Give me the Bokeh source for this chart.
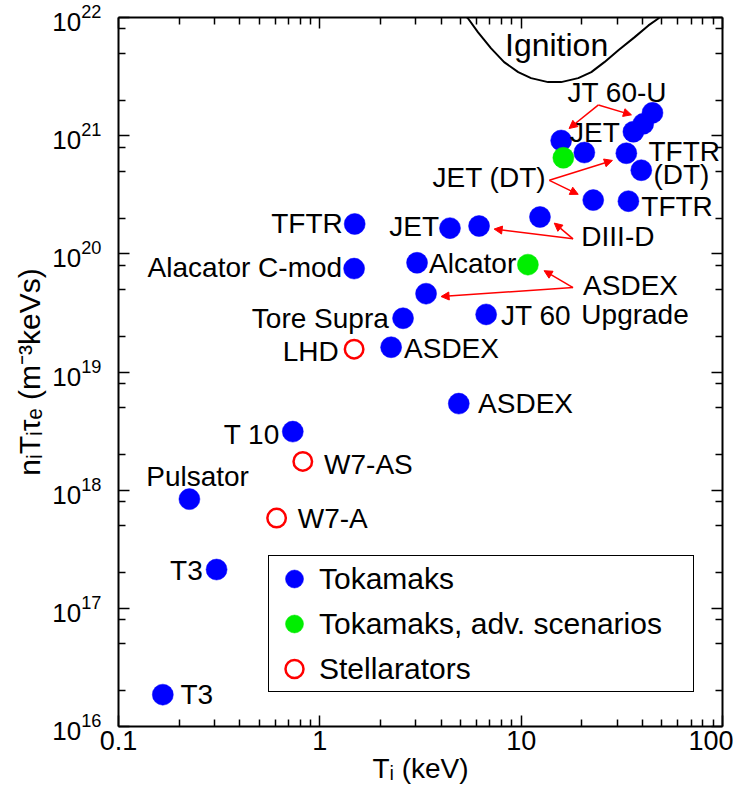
from bokeh.plotting import figure
from bokeh.models import (LogAxis, FixedTicker, ColumnDataSource, Arrow, NormalHead,
                          Legend, LegendItem, LogTickFormatter, CustomJSTickFormatter)
from bokeh.embed import file_html
from bokeh.resources import INLINE
from bokeh.core.properties import value

FONT = "Liberation Sans"

# ---------------- data ----------------
# Tokamaks (blue, filled)
tok_T = [0.166, 0.307, 0.225, 0.734, 4.9, 2.26, 2.59, 3.37, 3.04, 6.7, 1.48, 1.49,
         4.43, 6.18, 12.4, 15.8, 20.6, 33.3, 39.5, 22.8, 34.1, 36.1, 40.4, 44.9]
tok_n = [1.86e16, 2.13e17, 8.4e17, 3.13e18, 5.4e18, 1.62e19, 2.85e19, 4.6e19, 8.4e19,
         3.07e19, 7.5e19, 1.79e20, 1.65e20, 1.72e20, 2.05e20, 9.1e20, 7.2e20, 7.1e20,
         5.1e20, 2.85e20, 2.79e20, 1.08e21, 1.26e21, 1.56e21]
# Tokamaks, advanced scenarios (green)
adv_T = [16.2, 10.8]
adv_n = [6.5e20, 8.1e19]
# Stellarators (red, open)
stel_T = [0.61, 0.823, 1.48]
stel_n = [5.8e17, 1.75e18, 1.56e19]

# Ignition curve
ign_T = [5.38, 5.45, 6.11, 7.09, 8.23, 9.67, 11.2, 13.6, 15.8, 19.2, 22.3, 25.9, 30.4, 36.5, 42.9, 48.0, 48.5]
ign_n = [1.0e22, 9.8e21, 7.48e21, 5.48e21, 4.19e21, 3.45e21, 3.07e21, 2.84e21, 2.84e21,
         3.07e21, 3.45e21, 4.19e21, 5.28e21, 6.79e21, 8.57e21, 9.8e21, 1.0e22]
ign_label = ["Ignition"]
ign_label_x = [15.0]
ign_label_y = [5.82e21]

# Point labels
lab_left_text = ["JET", "TFTR", "(DT)", "TFTR", "Alcator", "DIII-D", "ASDEX", "Upgrade",
                 "JT 60", "ASDEX", "ASDEX", "W7-AS", "W7-A", "T3"]
lab_left_x = [17.5, 42.9, 45.4, 39.5, 3.49, 19.9, 20.3, 19.9, 7.95, 2.62, 6.11, 1.05, 0.777, 0.203]
lab_left_y = [1.06e21, 7.34e20, 4.70e20, 2.53e20, 8.24e19, 1.39e20, 5.38e19, 3.07e19,
              3.01e19, 1.59e19, 5.38e18, 1.66e18, 5.71e17, 1.86e16]

lab_right_text = ["JET (DT)", "JET", "TFTR", "Alacator C-mod", "Tore Supra", "LHD", "T 10", "T3"]
lab_right_x = [13.3, 3.91, 1.30, 1.29, 2.20, 1.24, 0.632, 0.262]
lab_right_y = [4.44e20, 1.72e20, 1.79e20, 7.63e19, 2.84e19, 1.50e19, 2.96e18, 2.08e17]

lab_center_text = ["JT 60-U", "Pulsator"]
lab_center_x = [30.0, 0.247]
lab_center_y = [2.30e21, 1.31e18]

# Annotation arrows (start at label, end at point)
arr_x0 = [24.2, 24.2, 13.8, 13.8, 18.1, 18.1, 18.1, 18.1]
arr_y0 = [1.82e21, 1.82e21, 4.19e20, 4.19e20, 1.34e20, 1.34e20, 5.18e19, 5.18e19]
arr_x1 = [35.3, 17.3, 28.4, 19.2, 7.34, 14.6, 13.0, 4.0]
arr_y1 = [1.50e21, 1.15e21, 6.17e20, 3.19e20, 1.62e20, 1.82e20, 7.2e19, 4.35e19]

x_major = [0.1, 1, 10, 100]
x_minor = [k * 10.0 ** e for e in (-1, 0, 1) for k in range(2, 10)]
y_major = [10.0 ** e for e in range(16, 23)]
y_minor = [k * 10.0 ** e for e in range(16, 22) for k in (2, 5, 8)]

# ---------------- figure ----------------
p = figure(width=733, height=787, x_axis_type="log", y_axis_type="log",
           x_range=(0.1, 100), y_range=(1e16, 1e22),
           output_backend="svg", toolbar_location=None,
           min_border_left=118, min_border_right=11, min_border_top=17, min_border_bottom=61)
p.grid.visible = False
p.outline_line_color = None
p.background_fill_color = "white"
p.border_fill_color = "white"

xt = FixedTicker(ticks=x_major, minor_ticks=x_minor)
yt = FixedTicker(ticks=y_major, minor_ticks=y_minor)

def style_axis(ax):
    ax.axis_line_width = 2
    ax.axis_line_color = "black"
    ax.major_tick_in = 11
    ax.major_tick_out = 0
    ax.minor_tick_in = 7
    ax.minor_tick_out = 0
    ax.major_tick_line_width = 1.5
    ax.minor_tick_line_width = 1.5
    ax.major_tick_line_color = "black"
    ax.minor_tick_line_color = "black"
    ax.major_label_text_font = FONT
    ax.major_label_text_font_size = "26px"
    ax.major_label_text_color = "black"
    ax.axis_label_text_font = FONT
    ax.axis_label_text_font_size = "28px"
    ax.axis_label_text_font_style = "normal"
    ax.axis_label_text_color = "black"

xa = p.xaxis[0]
xa.ticker = xt
xa.formatter = LogTickFormatter(min_exponent=3)
xa.axis_label = "Tᵢ (keV)"
xa.major_label_standoff = 4
xa.axis_label_standoff = 0
style_axis(xa)
xa.major_label_text_font_size = "27px"

ya = p.yaxis[0]
ya.ticker = yt
ya.axis_label = "nᵢTᵢτₑ (m⁻³keVs)"
ya.major_label_standoff = 17
ya.axis_label_standoff = 3
style_axis(ya)
ya.axis_label_text_font_size = "30px"

blank = CustomJSTickFormatter(code="return ''")
top = LogAxis(ticker=xt, formatter=blank, major_label_standoff=0)
right = LogAxis(ticker=yt, formatter=blank, major_label_standoff=0)
style_axis(top)
style_axis(right)
p.add_layout(top, "above")
p.add_layout(right, "right")

# ignition curve
p.line(ign_T, ign_n, line_color="black", line_width=2)

# arrows
arr_src = ColumnDataSource(dict(x0=arr_x0, y0=arr_y0, x1=arr_x1, y1=arr_y1))
p.add_layout(Arrow(end=NormalHead(size=8, fill_color="red", line_color="red", line_width=1),
                   x_start="x0", y_start="y0", x_end="x1", y_end="y1",
                   source=arr_src, line_color="red", line_width=1.5))

# points
r_tok = p.scatter(tok_T, tok_n, size=21, fill_color="#0000ff", line_color="#0000ff", line_width=0.5)
r_adv = p.scatter(adv_T, adv_n, size=21, fill_color="#00ee00", line_color="#00ee00", line_width=0.5)
r_stel = p.scatter(stel_T, stel_n, size=18.5, fill_color=None, line_color="#ff0000", line_width=2.5)

# labels
common = dict(text_font=value(FONT), text_color="black", text_baseline="middle")
p.text(x=lab_left_x, y=lab_left_y, text=lab_left_text, text_align="left", text_font_size="28px", **common)
p.text(x=lab_right_x, y=lab_right_y, text=lab_right_text, text_align="right", text_font_size="28px", **common)
p.text(x=lab_center_x, y=lab_center_y, text=lab_center_text, text_align="center", text_font_size="28px", **common)
p.text(x=ign_label_x, y=ign_label_y, text=ign_label, text_align="center", text_font_size="32px", **common)

# legend
legend = Legend(items=[LegendItem(label="Tokamaks", renderers=[r_tok]),
                       LegendItem(label="Tokamaks, adv. scenarios", renderers=[r_adv]),
                       LegendItem(label="Stellarators", renderers=[r_stel])],
                location=(150, 34), orientation="vertical",
                border_line_color="black", border_line_width=1.5, border_line_alpha=1.0,
                background_fill_color="white", background_fill_alpha=1,
                label_text_font=FONT, label_text_font_size="30px", label_text_color="black",
                glyph_width=50, glyph_height=45, label_height=30,
                spacing=0, padding=0, margin=0, label_standoff=0, label_width=374)
p.add_layout(legend)

open("out.html", "w").write(file_html(p, INLINE))
